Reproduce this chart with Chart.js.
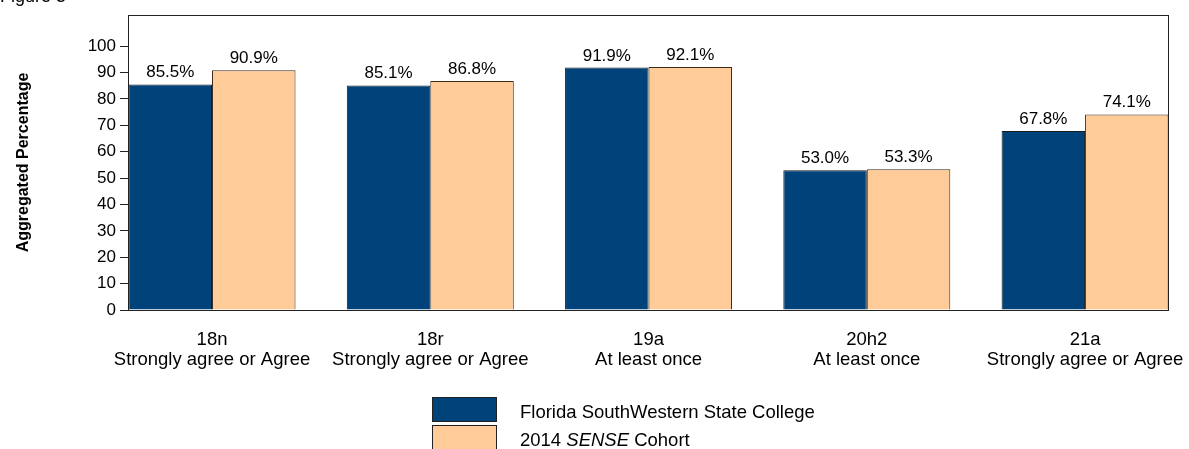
<!DOCTYPE html>
<html>
<head>
<meta charset="utf-8">
<script src="https://cdn.jsdelivr.net/npm/chart.js@4.4.1/dist/chart.umd.min.js"></script>
<style>
  body { margin: 0; background: #fff; font-family: "Liberation Sans", Arial, sans-serif; }
  #wrap { position: relative; width: 1189px; height: 449px; overflow: hidden; }
  #fig { position: absolute; left: 0; top: -15px; font-size: 18px; line-height: 22px; color: #000; }
  #legend { position: absolute; left: 432px; top: 395px; }
  .item { display: flex; align-items: center; height: 28px; }
  .box { width: 63px; height: 23px; border: 1px solid #222; margin-right: 23px; flex: none; }
  .txt { font-size: 18.5px; color: #000; position: relative; top: 3px; }
</style>
</head>
<body>
<div id="wrap">
  <div id="fig">Figure 5</div>
  <canvas id="chart" width="1189" height="449"></canvas>
  <div id="legend"></div>
</div>
<script>
const categories = [
  ["18n", "Strongly agree or Agree"],
  ["18r", "Strongly agree or Agree"],
  ["19a", "At least once"],
  ["20h2", "At least once"],
  ["21a", "Strongly agree or Agree"]
];
const seriesNames = ["Florida SouthWestern State College", "2014 SENSE Cohort"];
const collegeValues = [85.5, 85.1, 91.9, 53.0, 67.8];
const cohortValues = [90.9, 86.8, 92.1, 53.3, 74.1];
const yTicks = [0, 10, 20, 30, 40, 50, 60, 70, 80, 90, 100];
const colors = ["#00427A", "#FFCC99"];

const FONT = "'Liberation Sans', Arial, sans-serif";
const toPoints = vals => vals.map((v, i) => ({ x: i, y: v }));

// frame round the plot area
const framePlugin = {
  id: "frame",
  afterDraw(chart) {
    const { ctx, chartArea: a } = chart;
    ctx.save();
    ctx.strokeStyle = "#222";
    ctx.lineWidth = 1;
    ctx.strokeRect(a.left + 0.5, a.top + 0.5, a.right - a.left, a.bottom - a.top);
    ctx.restore();
  }
};

// value labels above the bars
const valueLabels = {
  id: "valueLabels",
  afterDatasetsDraw(chart) {
    const ctx = chart.ctx;
    ctx.save();
    ctx.font = "17px " + FONT;
    ctx.fillStyle = "#000";
    ctx.textAlign = "center";
    ctx.textBaseline = "alphabetic";
    chart.data.datasets.forEach((ds, di) => {
      chart.getDatasetMeta(di).data.forEach((bar, i) => {
        ctx.fillText(ds.data[i].y.toFixed(1) + "%", bar.x, bar.y - 7);
      });
    });
    ctx.restore();
  }
};

new Chart(document.getElementById("chart"), {
  type: "bar",
  data: {
    datasets: [
      { label: seriesNames[0], data: toPoints(collegeValues), backgroundColor: colors[0], borderColor: "#1a1a1a", borderWidth: 1 },
      { label: seriesNames[1], data: toPoints(cohortValues), backgroundColor: colors[1], borderColor: "#3a2a1a", borderWidth: 1 }
    ]
  },
  options: {
    responsive: false,
    animation: false,
    layout: { padding: { left: 0, top: 15, right: 21, bottom: 79 } },
    categoryPercentage: 0.765,
    barPercentage: 1.0,
    plugins: { legend: { display: false }, tooltip: { enabled: false } },
    scales: {
      x: {
        type: "linear",
        min: -0.385,
        max: 4.38,
        offset: false,
        grid: { display: false, drawTicks: false },
        border: { display: false },
        afterBuildTicks: s => { s.ticks = categories.map((_, i) => ({ value: i })); },
        afterFit: s => { s.height = 60; s.paddingLeft = 0; s.paddingRight = 0; },
        ticks: {
          autoSkip: false,
          maxRotation: 0,
          padding: 20,
          color: "#000",
          font: { family: FONT, size: 18.5, lineHeight: 1.08 },
          callback: v => categories[v]
        }
      },
      y: {
        min: 0,
        max: 111.8,
        afterBuildTicks: s => { s.ticks = yTicks.map(v => ({ value: v })); },
        afterFit: s => { s.width = 128; s.paddingTop = 0; s.paddingBottom = 0; },
        grid: { drawOnChartArea: false, drawTicks: true, tickLength: 8, color: "#222" },
        border: { display: false },
        title: {
          display: true,
          text: "Aggregated Percentage",
          color: "#000",
          font: { family: FONT, size: 16, weight: "bold" },
          padding: { top: 14, bottom: 0 }
        },
        ticks: {
          padding: 4,
          color: "#000",
          font: { family: FONT, size: 17 }
        }
      }
    }
  },
  plugins: [framePlugin, valueLabels]
});

// legend built from the series names
const legend = document.getElementById("legend");
seriesNames.forEach((name, i) => {
  const item = document.createElement("div");
  item.className = "item";
  const box = document.createElement("div");
  box.className = "box";
  box.style.background = colors[i];
  const txt = document.createElement("span");
  txt.className = "txt";
  txt.innerHTML = name.replace("SENSE", "<i>SENSE</i>");
  item.appendChild(box);
  item.appendChild(txt);
  legend.appendChild(item);
});
</script>
</body>
</html>
